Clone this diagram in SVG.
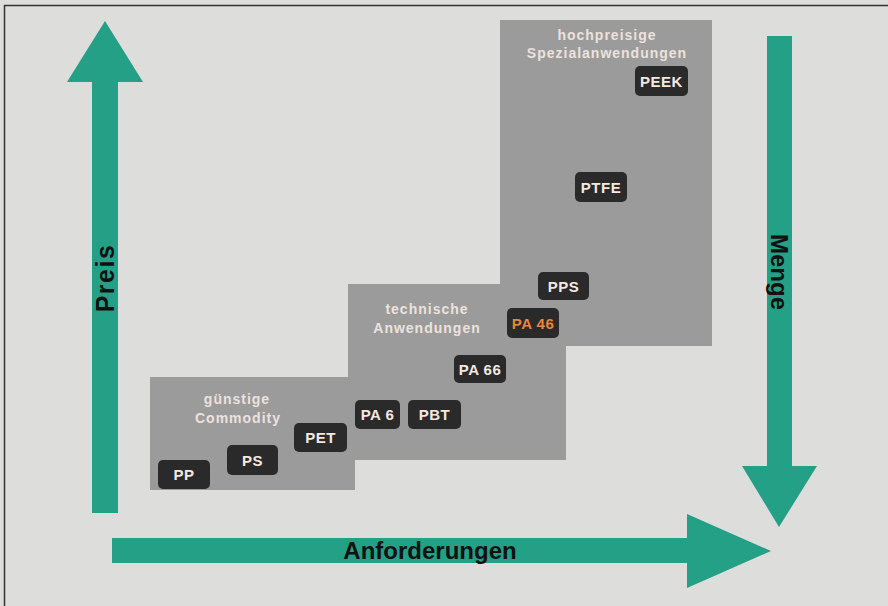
<svg xmlns="http://www.w3.org/2000/svg" width="888" height="606" viewBox="0 0 888 606">
  <style>
    .axis { fill: #23a086; }
    .axlbl { font-family: "Liberation Sans", Arial, sans-serif; font-weight: bold; font-size: 24px; fill: #111; text-anchor: middle; }
    .area { fill: #9b9b9b; }
    .grp { font-family: "Liberation Sans", Arial, sans-serif; font-weight: bold; font-size: 14px; fill: #ece2de; text-anchor: middle; letter-spacing: 1px; }
    .tag rect { fill: #2a2a2a; }
    .tag text { font-family: "Liberation Sans", Arial, sans-serif; font-weight: bold; font-size: 15px; fill: #f3e8e2; text-anchor: middle; letter-spacing: 0.5px; }
    .tag text.hl { fill: #e8863a; }
  </style>
  <rect x="0" y="0" width="888" height="606" fill="#dddddc"/>
  <path d="M4.5 606 V5.5 H888" fill="none" stroke="#333" stroke-width="1.5"/>

  <g id="areas">
    <polygon class="area" points="150,377 348,377 348,284 500,284 500,20 712,20 712,346 566,346 566,460 355,460 355,490 150,490"/>
  </g>

  <g id="group-labels">
    <text class="grp" x="607" y="40">hochpreisige</text>
    <text class="grp" x="607" y="58">Spezialanwendungen</text>
    <text class="grp" x="427" y="314">technische</text>
    <text class="grp" x="427" y="333">Anwendungen</text>
    <text class="grp" x="237" y="404">günstige</text>
    <text class="grp" x="238" y="423">Commodity</text>
  </g>

  <g id="connectors">
    <g id="arrow-preis">
      <polygon class="axis" points="92,513 92,82 67,82 105,21 143,82 118,82 118,513"/>
      <text class="axlbl" style="font-size:25px;letter-spacing:1.5px" transform="translate(113.5,278) rotate(-90)" x="0" y="0">Preis</text>
    </g>
    <g id="arrow-menge">
      <polygon class="axis" points="767,36 792,36 792,466 817,466 779,527 742,466 767,466"/>
      <text class="axlbl" transform="translate(771,272) rotate(90)" x="0" y="0">Menge</text>
    </g>
    <g id="arrow-anforderungen">
      <polygon class="axis" points="112,538 687,538 687,514 771,551 687,588 687,563 112,563"/>
      <text class="axlbl" x="430" y="559">Anforderungen</text>
    </g>
  </g>

  <g id="PP" class="tag"><rect x="158" y="460" width="52" height="29" rx="5"/><text x="184" y="480">PP</text></g>
  <g id="PS" class="tag"><rect x="227" y="445" width="51" height="30" rx="5"/><text x="252.5" y="465.5">PS</text></g>
  <g id="PET" class="tag"><rect x="294" y="423" width="53" height="29" rx="5"/><text x="320.5" y="443">PET</text></g>
  <g id="PA6" class="tag"><rect x="355" y="400" width="45" height="29" rx="5"/><text x="377.5" y="420">PA 6</text></g>
  <g id="PBT" class="tag"><rect x="408" y="400" width="53" height="29" rx="5"/><text x="434.5" y="420">PBT</text></g>
  <g id="PA66" class="tag"><rect x="454" y="355" width="52" height="28" rx="5"/><text x="480" y="374.5">PA 66</text></g>
  <g id="PA46" class="tag"><rect x="507" y="308" width="52" height="30" rx="5"/><text class="hl" x="533" y="328.5">PA 46</text></g>
  <g id="PPS" class="tag"><rect x="538" y="272" width="51" height="28" rx="5"/><text x="563.5" y="291.5">PPS</text></g>
  <g id="PTFE" class="tag"><rect x="575" y="172" width="52" height="30" rx="5"/><text x="601" y="192.5">PTFE</text></g>
  <g id="PEEK" class="tag"><rect x="635" y="66" width="53" height="30" rx="5"/><text x="661.5" y="86.5">PEEK</text></g>
</svg>
